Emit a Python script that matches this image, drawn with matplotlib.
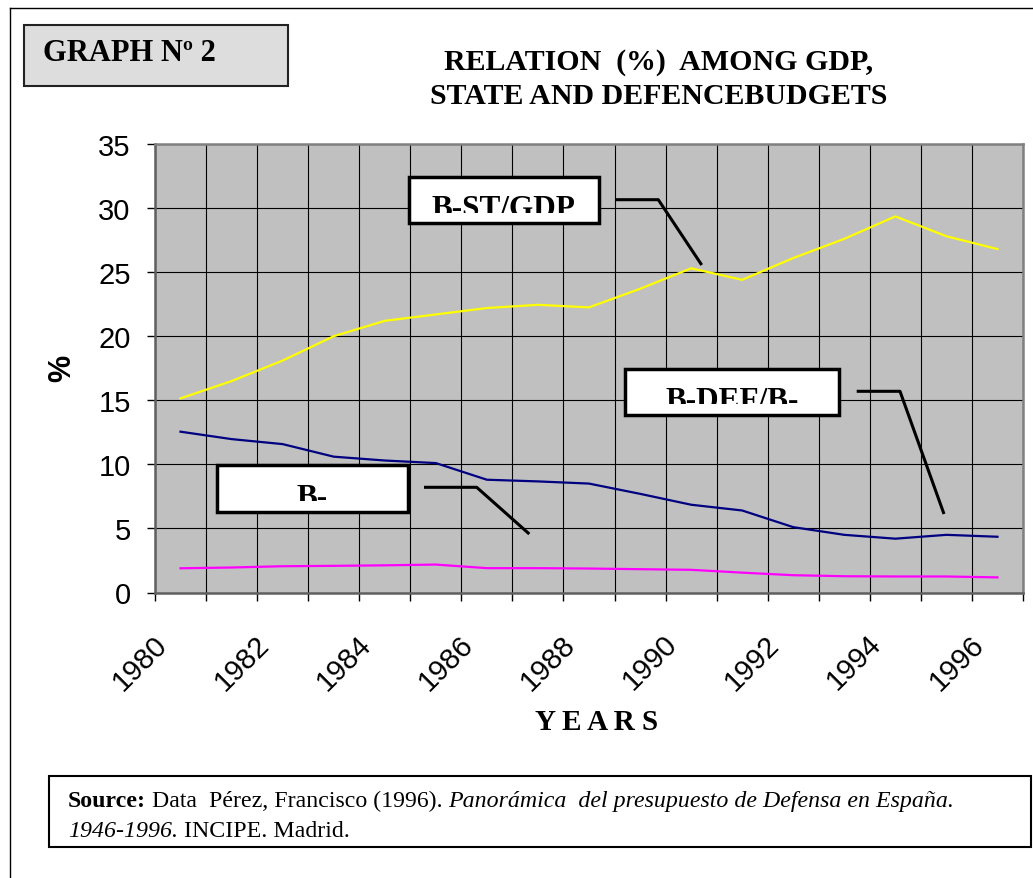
import matplotlib
matplotlib.use("Agg")
import matplotlib.pyplot as plt
import matplotlib.transforms as mtransforms
from matplotlib.patches import Rectangle

# data (%)
years = [1980, 1981, 1982, 1983, 1984, 1985, 1986, 1987, 1988,
         1989, 1990, 1991, 1992, 1993, 1994, 1995, 1996]
b_st_gdp = [15.15, 16.5, 18.1, 20.0, 21.2, 21.7, 22.2, 22.45, 22.25,
            23.7, 25.3, 24.4, 26.1, 27.6, 29.35, 27.8, 26.8]
b_def_bst = [12.55, 11.97, 11.58, 10.6, 10.3, 10.1, 8.8, 8.67, 8.5,
             7.7, 6.85, 6.4, 5.1, 4.5, 4.2, 4.5, 4.35]
b_def_gdp = [1.89, 1.95, 2.05, 2.08, 2.12, 2.18, 1.9, 1.9, 1.87,
             1.82, 1.77, 1.55, 1.35, 1.27, 1.25, 1.25, 1.18]
yticks = [0, 5, 10, 15, 20, 25, 30, 35]
label_years = years[::2]

W, H = 1033, 879
SANS = "Liberation Sans"
SERIF = "Liberation Serif"

fig = plt.figure(figsize=(W / 100, H / 100), dpi=100)
ax = fig.add_axes([155 / W, 1 - 593.5 / H, 868 / W, 448.5 / H])
ax.set_facecolor("#C0C0C0")

x = list(range(len(years)))
ax.plot(x, b_st_gdp, color="#FFFF00", lw=1.6, zorder=3)
ax.plot(x, b_def_bst, color="#000080", lw=1.6, zorder=3)
ax.plot(x, b_def_gdp, color="#FF00FF", lw=1.6, zorder=3)

ax.set_xlim(-0.5, len(years) - 0.5)
ax.set_ylim(0, 35)
ax.set_yticks(yticks)
ax.set_yticklabels([str(v) for v in yticks], fontfamily=SANS, fontsize=21)
ax.tick_params(axis="y", length=6, width=1, pad=11.5, direction="out")

# category boundaries: tick marks + vertical grid
bounds = [i - 0.5 for i in range(len(years) + 1)]
ax.set_xticks(bounds)
ax.set_xticklabels([])
ax.tick_params(axis="x", length=6, width=1, direction="out")
ax.grid(True, color="black", lw=0.8)
ax.set_axisbelow(True)

for s in ["top", "right"]:
    ax.spines[s].set_color("#808080")
    ax.spines[s].set_linewidth(1.8)
for s in ["left", "bottom"]:
    ax.spines[s].set_color("#606060")
    ax.spines[s].set_linewidth(1.8)

# rotated year labels
blend = mtransforms.blended_transform_factory(ax.transData, ax.transAxes)
off = mtransforms.ScaledTranslation(-0.41, -0.695, fig.dpi_scale_trans)
for yr in label_years:
    ax.text(years.index(yr), 0, str(yr), transform=blend + off, rotation=45,
            ha="center", va="center", rotation_mode="anchor",
            fontfamily=SANS, fontsize=21)

# overlay in pixel coordinates for decorations
ov = fig.add_axes([0, 0, 1, 1], zorder=10)
ov.set_xlim(0, W)
ov.set_ylim(H, 0)
ov.axis("off")
ov.patch.set_visible(False)

ov.plot([10, 10], [9, H], color="black", lw=1)
ov.plot([10, W], [9, 9], color="black", lw=1)

ov.add_patch(Rectangle((23.5, 26), 264.5, 61, facecolor="#DDDDDD",
                       edgecolor="#222222", lw=1.5))
ov.text(43, 61, "GRAPH Nº 2", fontfamily=SERIF, fontweight="bold",
        fontsize=22, ha="left", va="baseline")

ov.text(659, 70, "RELATION  (%)  AMONG GDP,", fontfamily=SERIF,
        fontweight="bold", fontsize=21.5, ha="center", va="baseline")
ov.text(659, 104, "STATE AND DEFENCEBUDGETS", fontfamily=SERIF,
        fontweight="bold", fontsize=21.5, ha="center", va="baseline")

ov.text(62, 368, "%", fontfamily=SANS, fontweight="bold", fontsize=22,
        rotation=90, ha="center", va="center")
ov.text(597, 730, "Y E A R S", fontfamily=SERIF, fontweight="bold",
        fontsize=21, ha="center", va="baseline")

# label boxes with clipped text and leader lines
boxes = [
    ("B-ST/GDP", 408.5, 177.5, 600.7 - 410, 225.7 - 179, 217.4, 214),
    ("B-DEF/B-", 625, 370, 840.7 - 626.5, 417.3 - 371.5, 409, 405),
    ("B-", 216.5, 466, 409.3 - 218, 514 - 467.5, 505.7, 501.7),
]
for txt, bx, by, bw, bh, base, clip in boxes:
    ov.add_patch(Rectangle((bx, by), bw, bh, facecolor="white",
                           edgecolor="none", zorder=1))
    ov.text(bx + bw / 2, base, txt, fontfamily=SERIF, fontweight="bold",
            fontsize=22.5, ha="center", va="baseline", zorder=2)
    ov.add_patch(Rectangle((bx, clip), bw, by + bh - clip, facecolor="white",
                           edgecolor="none", zorder=3))
    ov.add_patch(Rectangle((bx, by), bw, bh, facecolor="none",
                           edgecolor="black", lw=2.5, zorder=4))

leaders = [
    ([616, 658.3, 701.7], [200.7, 200.7, 266]),
    ([856.7, 900, 944], [392.3, 392.3, 515]),
    ([424, 476.7, 529.3], [488.3, 488.3, 535]),
]
for lx, ly in leaders:
    ov.plot(lx, ly, color="black", lw=2.2, solid_capstyle="butt")

# source box
ov.add_patch(Rectangle((48.5, 777.5), 982, 71, facecolor="white",
                       edgecolor="black", lw=1.5))
renderer = fig.canvas.get_renderer()


def run(xpos, ypos, parts):
    for s, weight, style in parts:
        t = ov.text(xpos, ypos, s, fontfamily=SERIF, fontweight=weight,
                    fontstyle=style, fontsize=17.2, ha="left", va="baseline")
        bb = t.get_window_extent(renderer)
        xpos += bb.width
    return xpos


run(68, 807, [("Source:", "bold", "normal"),
              (" Data  Pérez, Francisco (1996). ", "normal", "normal"),
              ("Panorámica  del presupuesto de Defensa en España.", "normal", "italic")])
run(68, 837, [("1946-1996.", "normal", "italic"),
              (" INCIPE. Madrid.", "normal", "normal")])

fig.savefig("out.png", dpi=100)
